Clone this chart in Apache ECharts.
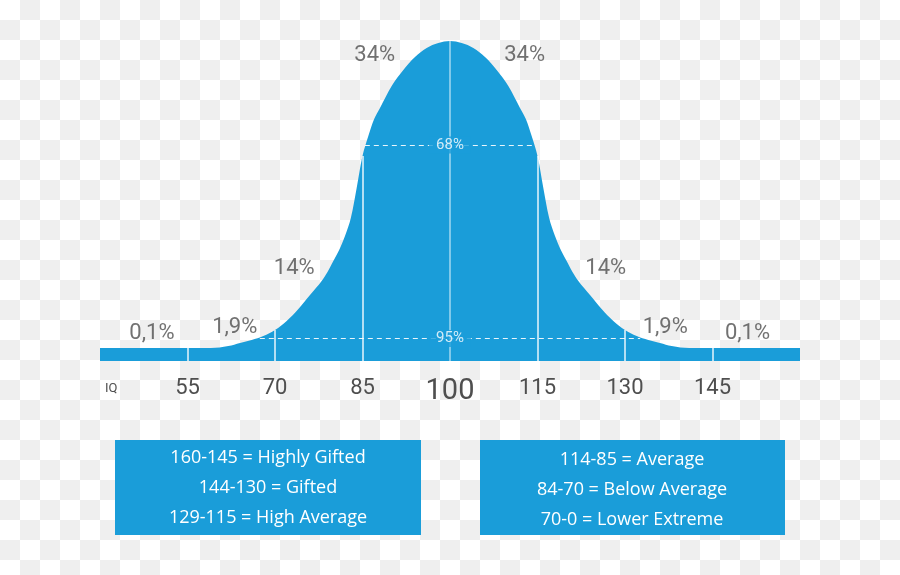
<!DOCTYPE html>
<html>
<head>
<meta charset="utf-8">
<script src="https://cdn.jsdelivr.net/npm/echarts@6/dist/echarts.min.js"></script>
<style>
  html, body { margin: 0; padding: 0; }
  body {
    width: 900px; height: 575px;
    background: repeating-conic-gradient(#efefef 0 25%, #ffffff 0 50%) 0 0 / 40px 40px;
  }
  #chart { width: 900px; height: 575px; }
</style>
</head>
<body>
<div id="chart"></div>
<script>
// IQ scores along the curve and the curve height (relative units)
const iqValues = [40, 55, 59, 62, 64, 66, 68, 70, 72, 74, 76, 78, 79, 80, 81, 82, 83, 84, 85, 86, 87, 88, 90, 92, 94, 96, 98, 100,
                  102, 104, 106, 108, 110, 112, 113, 114, 115, 116, 117, 118, 119, 120, 121, 122, 124, 126, 128, 130, 132, 134, 136, 138, 141, 145, 160];
const curveHeights = [0, 0, 0, 2, 5, 8, 12, 18, 27, 39, 53, 67, 76, 87, 98, 112, 130, 160, 192, 212, 229, 240, 262, 278, 291, 300, 305, 307,
                      305, 300, 291, 278, 262, 240, 229, 212, 192, 160, 130, 112, 98, 87, 76, 67, 53, 39, 27, 18, 12, 8, 5, 2, 0, 0, 0];
const bandBottom = -13;

// Tick labels on the IQ axis
const tickLabels = [55, 70, 85, 100, 115, 130, 145];

// Percentage labels above the curve: [iq, height, text]
const outerLabels = [
  [48.9, 14.5, '0,1%'], [63.1, 21, '1,9%'], [73.3, 79.5, '14%'], [87.1, 293, '34%'],
  [112.8, 293, '34%'], [126.7, 79.5, '14%'], [136.9, 21, '1,9%'], [151.0, 14.5, '0,1%']
];
// Dashed range lines inside the curve: [fromIq, toIq, height, text]
const rangeLines = [
  [85.4, 114.6, 203, '68%'],
  [67.4, 132.6, 9.5, '95%']
];

// Legend boxes
const leftBoxLines = ['160-145 = Highly Gifted', '144-130 = Gifted', '129-115 = High Average'];
const rightBoxLines = ['114-85 = Average', '84-70 = Below Average', '70-0 = Lower Extreme'];

const BLUE = '#1a9dd9';
const GREY = '#4f4f4f';

const curveData = iqValues.map((v, i) => [v, curveHeights[i]]);
const heightAt = (x) => curveHeights[iqValues.indexOf(x)];

const verticalLines = tickLabels.map(t => ({
  coords: [[t, bandBottom], [t, heightAt(t)]],
  lineStyle: { color: t === 100 ? 'rgba(255,255,255,0.6)' : 'rgba(255,255,255,0.9)' }
}));

const dashLines = rangeLines.map(r => ({ coords: [[r[0], r[2]], [r[1], r[2]]] }));

const chart = echarts.init(document.getElementById('chart'));
chart.setOption({
  animation: false,
  backgroundColor: 'transparent',
  grid: { left: 100, right: 100, top: 28, bottom: 214, outerBoundsMode: 'none' },
  xAxis: {
    type: 'value', min: 40, max: 160, interval: 5,
    axisLine: { show: false }, axisTick: { show: false }, splitLine: { show: false },
    axisLabel: {
      margin: 12,
      formatter: v => tickLabels.indexOf(v) >= 0 ? (v === 100 ? '{big|' + v + '}' : '{n|' + v + '}') : '',
      rich: {
        n: { fontFamily: 'Roboto', fontSize: 22, lineHeight: 30, color: GREY },
        big: { fontFamily: 'Roboto', fontSize: 29, lineHeight: 38, color: GREY }
      }
    }
  },
  yAxis: { type: 'value', min: bandBottom, max: 320, show: false },
  series: [
    {
      type: 'line', data: curveData, symbol: 'none', smooth: 0.35, z: 2,
      lineStyle: { width: 0 },
      areaStyle: { color: BLUE, opacity: 1, origin: 'start' }
    },
    {
      type: 'lines', coordinateSystem: 'cartesian2d', z: 3,
      lineStyle: { width: 1.5, opacity: 1 },
      data: verticalLines
    },
    {
      type: 'lines', coordinateSystem: 'cartesian2d', z: 3,
      lineStyle: { color: 'rgba(255,255,255,0.9)', width: 1, type: [5, 4], opacity: 1 },
      data: dashLines
    },
    {
      type: 'scatter', z: 4, symbolSize: 1, itemStyle: { color: 'transparent' },
      data: outerLabels,
      label: {
        show: true, position: 'inside', formatter: p => p.value[2],
        fontFamily: 'Roboto', fontSize: 22, color: GREY
      }
    },
    {
      type: 'scatter', z: 5, symbolSize: 1, itemStyle: { color: 'transparent' },
      data: rangeLines.map(r => [(r[0] + r[1]) / 2, r[2], r[3]]),
      label: {
        show: true, position: 'inside', formatter: p => p.value[2],
        fontFamily: 'Roboto', fontSize: 15, color: '#ffffff',
        backgroundColor: BLUE, padding: [1, 7]
      }
    }
  ],
  graphic: [
    { type: 'text', left: 105, top: 382, style: { text: 'IQ', font: '13px Roboto', fill: GREY } },
    { type: 'rect', shape: { x: 115, y: 440, width: 306, height: 95 }, style: { fill: BLUE } },
    { type: 'rect', shape: { x: 480, y: 440, width: 305, height: 95 }, style: { fill: BLUE } },
    ...leftBoxLines.map((t, i) => ({
      type: 'text', x: 268, y: 458 + i * 30,
      style: { text: t, font: '18px "Open Sans"', fill: '#ffffff', textAlign: 'center', textVerticalAlign: 'middle' }
    })),
    ...rightBoxLines.map((t, i) => ({
      type: 'text', x: 632, y: 460 + i * 30,
      style: { text: t, font: '18px "Open Sans"', fill: '#ffffff', textAlign: 'center', textVerticalAlign: 'middle' }
    }))
  ]
});
</script>
</body>
</html>
